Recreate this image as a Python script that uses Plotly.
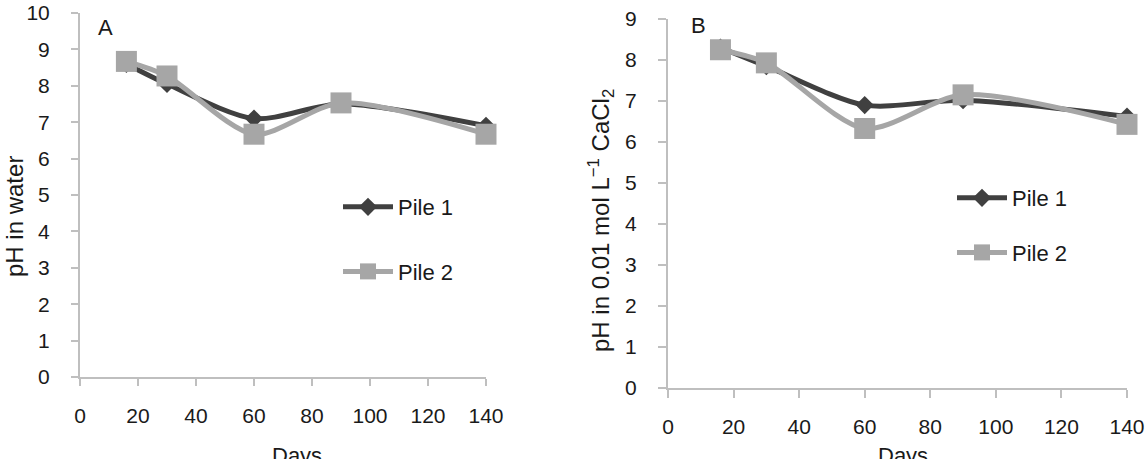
import plotly.graph_objects as go

days = [16, 30, 60, 90, 140]
water_pile1 = [8.6, 8.05, 7.1, 7.5, 6.9]
water_pile2 = [8.67, 8.27, 6.67, 7.53, 6.67]
cacl2_pile1 = [8.3, 7.85, 6.9, 7.02, 6.62]
cacl2_pile2 = [8.25, 7.93, 6.33, 7.15, 6.43]
series_names = ["Pile 1", "Pile 2"]

W, H = 1146, 459
DARK = "#404040"
LIGHT = "#a6a6a6"
AXC = "#bfbfbf"
FONT = "Liberation Sans, Arial, sans-serif"
TXT = "#1a1a1a"

fig = go.Figure()

def add_pair(p1, p2, xa, ya, leg):
    fig.add_trace(go.Scatter(
        x=days, y=p1, name=series_names[0], xaxis=xa, yaxis=ya, legend=leg,
        legendgroup=leg + "a", mode="lines+markers", cliponaxis=False,
        line=dict(color=DARK, width=5, shape="spline", smoothing=0.8),
        marker=dict(symbol="diamond", size=14, color=DARK)))
    fig.add_trace(go.Scatter(
        x=days, y=p2, name=series_names[1], xaxis=xa, yaxis=ya, legend=leg,
        legendgroup=leg + "b", mode="lines+markers", cliponaxis=False,
        line=dict(color=LIGHT, width=5, shape="spline", smoothing=0.8),
        marker=dict(symbol="square", size=21, color=LIGHT)))

add_pair(water_pile1, water_pile2, "x", "y", "legend")
add_pair(cacl2_pile1, cacl2_pile2, "x2", "y2", "legend2")

def px_x(p):
    return p / W

def px_y(p):
    return 1 - p / H

axis_common = dict(showline=True, linecolor=AXC, linewidth=2, ticks="outside",
                   tickcolor=AXC, tickwidth=2, showgrid=False, zeroline=False,
                   automargin=False,
                   tickfont=dict(family=FONT, size=21, color=TXT), fixedrange=True)

fig.update_layout(
    width=W, height=H, margin=dict(l=0, r=0, t=0, b=0, autoexpand=False),
    paper_bgcolor="white", plot_bgcolor="white",
    font=dict(family=FONT, color=TXT),
    xaxis=dict(domain=[px_x(80), px_x(486)], range=[0, 140], dtick=20, ticklen=7,
               ticklabelstandoff=12, anchor="y", **axis_common),
    yaxis=dict(domain=[px_y(377), px_y(13)], range=[0, 10], dtick=1, ticklen=7,
               ticklabelstandoff=17, anchor="x", **axis_common),
    xaxis2=dict(domain=[px_x(668), px_x(1127)], range=[0, 140], dtick=20, ticklen=8,
                ticklabelstandoff=11, anchor="y2", **axis_common),
    yaxis2=dict(domain=[px_y(388), px_y(19)], range=[0, 9], dtick=1, ticklen=8,
                ticklabelstandoff=17, anchor="x2", **axis_common),
    showlegend=True,
    legend=dict(x=px_x(338), y=px_y(186), xanchor="left", yanchor="top",
                font=dict(family=FONT, size=22, color=TXT), tracegroupgap=33,
                bgcolor="rgba(0,0,0,0)", itemwidth=50),
    legend2=dict(x=px_x(952), y=px_y(177), xanchor="left", yanchor="top",
                 font=dict(family=FONT, size=22, color=TXT), tracegroupgap=23,
                 bgcolor="rgba(0,0,0,0)", itemwidth=50),
)

ann = [
    dict(text="A", x=px_x(105), y=px_y(27), size=22, angle=0),
    dict(text="B", x=px_x(699), y=px_y(26), size=22, angle=0),
    dict(text="pH in water", x=px_x(14), y=px_y(217), size=24, angle=-90),
    dict(text="pH in 0.01 mol L<sup>\u22121</sup> CaCl<sub>2</sub>", x=px_x(601), y=px_y(221), size=24, angle=-90),
]
for a in ann:
    fig.add_annotation(text=a["text"], x=a["x"], y=a["y"], xref="paper", yref="paper",
                       xanchor="center", yanchor="middle", textangle=a["angle"],
                       showarrow=False, font=dict(family=FONT, size=a["size"], color=TXT))
for xc in (297, 903):
    fig.add_annotation(text="Days", x=px_x(xc), y=px_y(441), xref="paper", yref="paper",
                       xanchor="center", yanchor="top", showarrow=False,
                       font=dict(family=FONT, size=22, color=TXT))

fig.write_html("out.html")
